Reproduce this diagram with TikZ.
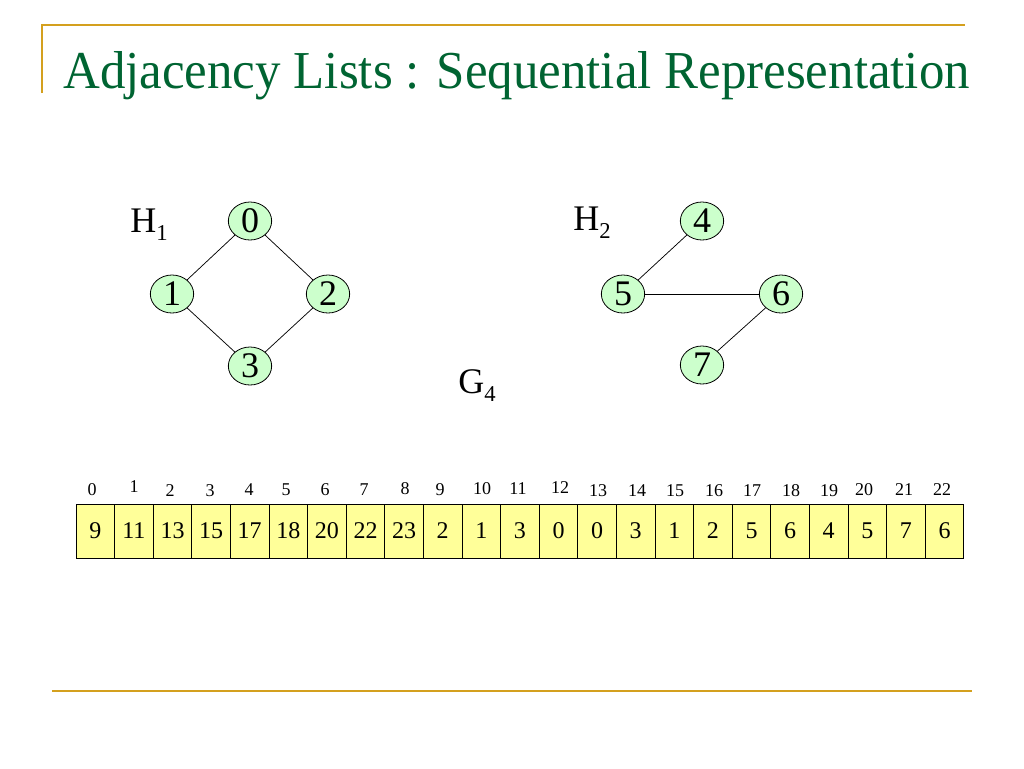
\documentclass[tikz,border=0pt]{standalone}
\usepackage{fontspec}
\setmainfont{Liberation Serif}
\usepackage{graphicx}
\usetikzlibrary{shapes.geometric}
\definecolor{gold}{RGB}{212,160,30}
\definecolor{titlegreen}{RGB}{0,100,50}
\definecolor{nodegreen}{RGB}{204,255,204}
\definecolor{cellyellow}{RGB}{255,255,153}
\tikzset{
  vtx/.style={ellipse, draw=black, line width=0.6pt, fill=nodegreen, minimum width=32.5pt, minimum height=28.5pt, inner sep=0pt, font=\fontsize{27}{27}\selectfont},
  edge/.style={draw=black, line width=0.55pt},
  cell/.style={rectangle, draw=black, line width=0.6pt, fill=cellyellow, minimum width=28.95pt, minimum height=40.5pt, inner sep=0pt, font=\fontsize{18}{18}\selectfont},
  idx/.style={inner sep=0pt, font=\fontsize{13.5}{14}\selectfont},
  glabel/.style={inner sep=0pt, anchor=base west, font=\fontsize{27}{27}\selectfont},
  rule/.style={draw=gold, line width=1.6pt}
}
\newcommand{\sbs}[1]{\raisebox{-6pt}{\fontsize{17}{17}\selectfont #1}}
\begin{document}
\begin{tikzpicture}[x=0.75pt,y=-0.75pt]
\useasboundingbox (0,0) rectangle (1024,768);
% decorative rules
\coordinate (tl) at (42,25);
\coordinate (tr) at (965,25);
\coordinate (vl) at (42,93);
\coordinate (bl) at (52,691);
\coordinate (br) at (972,691);
\draw[rule] (vl) -- (tl) -- (tr);
\draw[rule] (bl) -- (br);
% title
\node[anchor=base west, inner sep=0pt, text=titlegreen] (title) at (63,88)
  {\resizebox{680pt}{\height}{\fontsize{40}{44}\selectfont Adjacency Lists : Sequential Representation}};
% H1
\node[glabel] (h1) at (130,232) {H\sbs{1}};
\node[vtx] (n0) at (250,221) {0};
\node[vtx] (n1) at (172,294) {1};
\node[vtx] (n2) at (328,294) {2};
\node[vtx] (n3) at (250,366) {3};
\draw[edge] (n0) -- (n1);
\draw[edge] (n0) -- (n2);
\draw[edge] (n1) -- (n3);
\draw[edge] (n2) -- (n3);
% H2
\node[glabel] (h2) at (573,230) {H\sbs{2}};
\node[vtx] (n4) at (702,221) {4};
\node[vtx] (n5) at (623,294) {5};
\node[vtx] (n6) at (781,294) {6};
\node[vtx] (n7) at (702,365) {7};
\draw[edge] (n4) -- (n5);
\draw[edge] (n5) -- (n6);
\draw[edge] (n6) -- (n7);
% G4
\node[glabel] (g4) at (458,393) {G\sbs{4}};
% array
\foreach \v [count=\i from 0] in {9,11,13,15,17,18,20,22,23,2,1,3,0,0,3,1,2,5,6,4,5,7,6}{
  \node[cell] (c\i) at ({76+38.6*\i+19.3},531) {\v};
}
\foreach \xx/\yy [count=\i from 0] in {92/490,134/487,170/491,210/491,249/490,286/490,325/490,364/490,405/489,440/490,482/489,518/489,560/488,598/491,637/491,675/491,714/491,752/491,791/491,829/491,864/490,904/490,942/490}{
  \node[idx] (i\i) at (\xx,\yy) {\i};
}
\end{tikzpicture}
\end{document}
